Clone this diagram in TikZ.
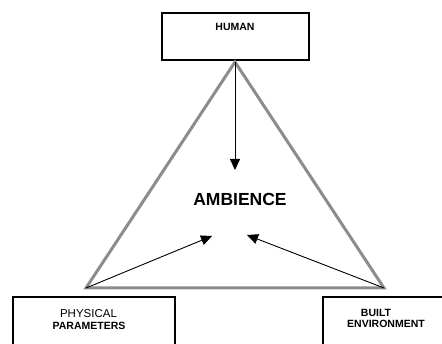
\documentclass[tikz,border=0pt]{standalone}
\usepackage{fontspec}
\setmainfont{Liberation Sans}
\usetikzlibrary{arrows.meta}
\begin{document}
\begin{tikzpicture}[x=1pt,y=-1pt,
  box/.style={draw=black,line width=1.3pt,inner sep=0pt},
  lbl/.style={inner sep=0pt,font=\fontsize{10.5}{12}\selectfont},
  blbl/.style={inner sep=0pt,font=\fontsize{10.5}{12}\selectfont\bfseries},
  tri/.style={draw=black!45,line width=3pt,line join=miter},
  arr/.style={draw=black,line width=0.9pt,-{Triangle[length=11pt,width=10pt]}}]
\useasboundingbox (0,0) rectangle (442,344);
\clip (0,0) rectangle (442,344);
% boxes
\node[box,minimum width=147pt,minimum height=47pt] (human) at (235.5,36.5) {};
\node[box,minimum width=162pt,minimum height=80pt] (phys) at (94,337) {};
\node[box,minimum width=140pt,minimum height=80pt] (built) at (393,337) {};
% triangle
\coordinate (top) at (235,62);
\coordinate (bl) at (86,288);
\coordinate (br) at (384,288);
\draw[tri] (top) -- (bl) -- (br) -- cycle;
% texts
\node[blbl,font=\fontsize{10.5}{12}\selectfont\bfseries] (thuman) at (235,27) {HUMAN};
\node[blbl,font=\fontsize{17.5}{20}\selectfont\bfseries] (tamb) at (240,199) {AMBIENCE};
\node[lbl,font=\fontsize{11.5}{12}\selectfont] (tphys1) at (88.5,314) {PHYSICAL};
\node[blbl] (tphys2) at (89,325.5) {PARAMETERS};
\node[blbl] (tbuilt1) at (376,312.5) {BUILT};
\node[blbl] (tbuilt2) at (386,324) {ENVIRONMENT};
% arrows
\coordinate (tipH) at (235,170);
\coordinate (tipL) at (212,236);
\coordinate (tipR) at (247,235);
\draw[arr] (top) -- (tipH);
\draw[arr] (bl) -- (tipL);
\draw[arr] (br) -- (tipR);
\end{tikzpicture}
\end{document}
